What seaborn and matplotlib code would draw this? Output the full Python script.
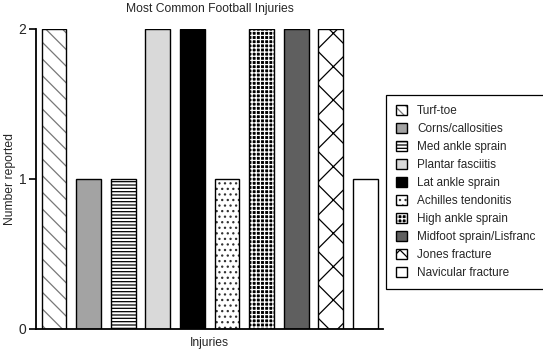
import matplotlib
matplotlib.use("Agg")
import matplotlib.pyplot as plt
import seaborn as sns
import pandas as pd
from matplotlib.colors import to_rgba
from matplotlib.patches import Patch

# ---- data ----
injuries = ["Turf-toe", "Corns/callosities", "Med ankle sprain", "Plantar fasciitis",
            "Lat ankle sprain", "Achilles tendonitis", "High ankle sprain",
            "Midfoot sprain/Lisfranc", "Jones fracture", "Navicular fracture"]
counts = [2, 1, 1, 2, 2, 1, 2, 2, 2, 1]
y_ticks = [0, 1, 2]

# ---- styles ----
face_colors = ["white", "#a3a3a3", "white", "#d9d9d9", "black", "white",
               "black", "#5f5f5f", "white", "white"]
hatches = ["\\\\", "", "-----", "", "", "...", "++++", "", "x", ""]
legend_hatches = ["\\\\\\", "", "-----", "", "", "...", "++++", "", "xx", ""]
hatch_colors = ["#777777", "black", "black", "black", "black", "#333333",
                "white", "black", "black", "black"]

sns.set_style("ticks")
plt.rcParams["font.family"] = ["Liberation Sans", "DejaVu Sans"]
plt.rcParams["hatch.linewidth"] = 0.9

fig = plt.figure(figsize=(5.43, 3.49), dpi=100)
ax = fig.add_axes([36 / 543, 1 - 329 / 349, (383 - 36) / 543, 300 / 349])

df = pd.DataFrame({"injury": injuries, "count": counts})
sns.barplot(data=df, x="injury", y="count", hue="injury", order=injuries,
            hue_order=injuries, palette=face_colors, saturation=1, width=0.72,
            edgecolor="black", linewidth=1, legend=False, ax=ax)

patches = sorted(ax.patches, key=lambda p: p.get_x())
for p, h, hc in zip(patches, hatches, hatch_colors):
    p.set_edgecolor("black")
    p.set_hatch(h)
    p._hatch_color = to_rgba(hc)

handles = []
for fc, h, hc in zip(face_colors, legend_hatches, hatch_colors):
    hp = Patch(facecolor=fc, edgecolor="black", linewidth=1, hatch=h)
    hp._hatch_color = to_rgba(hc)
    handles.append(hp)

ax.set_ylim(0, 2)
ax.set_xlim(-0.52, 9.51)
ax.set_yticks(y_ticks)
ax.set_yticklabels([str(t) for t in y_ticks])
ax.set_xticks([])
ax.tick_params(axis="y", length=5, width=1.2, labelsize=10, pad=2, color="black")
for s in ["top", "right"]:
    ax.spines[s].set_visible(False)
for s in ["left", "bottom"]:
    ax.spines[s].set_linewidth(1.3)
    ax.spines[s].set_color("black")

ax.set_title("Most Common Football Injuries", fontsize=8.7, pad=12.5)
ax.set_ylabel("Number reported", fontsize=8.7)
ax.yaxis.set_label_coords(-0.058, 0.5)
ax.set_xlabel("Injuries", fontsize=8.7, labelpad=6)

leg = ax.legend(handles, injuries, loc="upper left",
                bbox_to_anchor=(386 / 543, 1 - 95 / 349), bbox_transform=fig.transFigure,
                frameon=True, fancybox=False, edgecolor="black", fontsize=8.5,
                handlelength=1.0, handleheight=1.0, handletextpad=0.8,
                labelspacing=0.48, borderpad=0.82, borderaxespad=0)
leg.get_frame().set_linewidth(0.9)
leg.get_frame().set_alpha(1)

fig.savefig("out.png", dpi=100)
